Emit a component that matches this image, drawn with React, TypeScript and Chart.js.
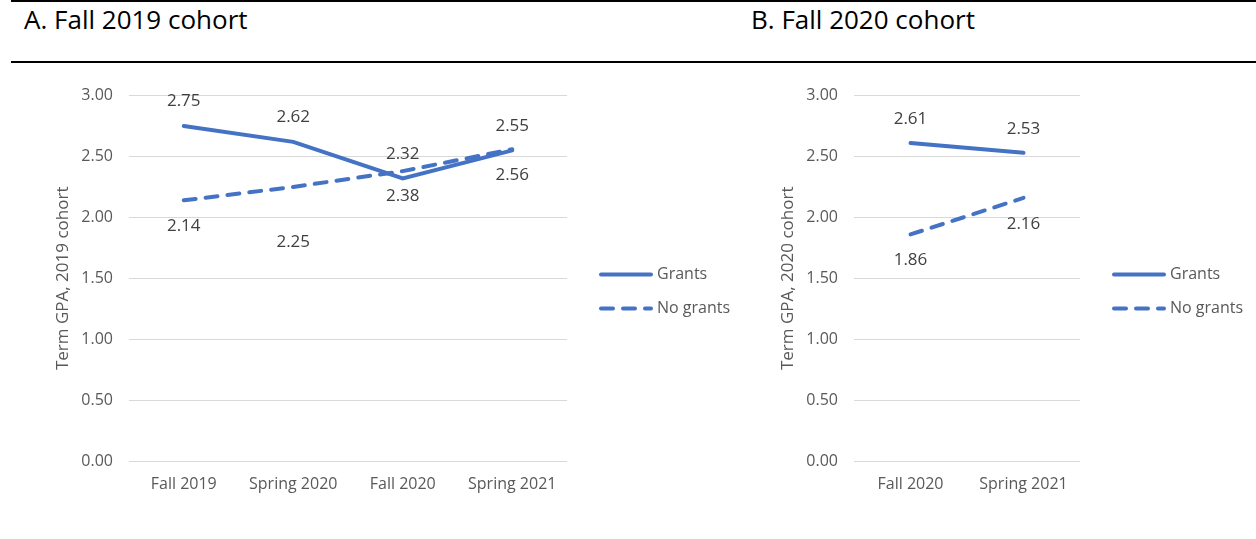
import React, { useEffect, useRef } from "react";
import { Chart, registerables } from "chart.js";

Chart.register(...registerables);

// ---- data ----
const termsA = ["Fall 2019", "Spring 2020", "Fall 2020", "Spring 2021"];
const grantsA = [2.75, 2.62, 2.32, 2.55];
const noGrantsA = [2.14, 2.25, 2.38, 2.56];

const termsB = ["Fall 2020", "Spring 2021"];
const grantsB = [2.61, 2.53];
const noGrantsB = [1.86, 2.16];

const seriesNames = ["Grants", "No grants"];
const panelTitles = ["A. Fall 2019 cohort", "B. Fall 2020 cohort"];
const yTitles = ["Term GPA, 2019 cohort", "Term GPA, 2020 cohort"];
const yMin = 0;
const yMax = 3;
const yStep = 0.5;

// ---- style ----
const FONT = "'Open Sans', sans-serif";
const BLUE = "#4472c4";
const TICK = "#595959";
const LABEL = "#404040";
const GRID = "#d9d9d9";

type PanelProps = {
  labels: string[];
  grants: number[];
  noGrants: number[];
  yTitle: string;
  yWidth: number;
  titlePad: number;
  labelOffsets: number[][];
  width: number;
  height: number;
  rightPad: number;
};

function Panel(p: PanelProps) {
  const ref = useRef<HTMLCanvasElement | null>(null);
  useEffect(() => {
    if (!ref.current) return;
    const valueLabels = {
      id: "valueLabels",
      afterDatasetsDraw(chart: any) {
        const ctx = chart.ctx;
        ctx.save();
        ctx.font = `17px ${FONT}`;
        ctx.fillStyle = LABEL;
        ctx.textAlign = "center";
        ctx.textBaseline = "middle";
        chart.data.datasets.forEach((ds: any, di: number) => {
          const meta = chart.getDatasetMeta(di);
          meta.data.forEach((pt: any, i: number) => {
            ctx.fillText(Number(ds.data[i]).toFixed(2), pt.x, pt.y + p.labelOffsets[di][i]);
          });
        });
        ctx.restore();
      },
    };
    const lineLegend = {
      id: "lineLegend",
      afterDraw(chart: any) {
        const ctx = chart.ctx;
        const area = chart.chartArea;
        const x0 = area.right + 32;
        const len = 54;
        const ys = [area.top + 179, area.top + 213];
        ctx.save();
        chart.data.datasets.forEach((ds: any, di: number) => {
          const y = ys[di];
          ctx.beginPath();
          ctx.strokeStyle = ds.borderColor;
          ctx.lineWidth = ds.borderWidth;
          ctx.lineCap = ds.borderCapStyle || "butt";
          ctx.setLineDash(ds.borderDash || []);
          ctx.moveTo(x0 + 2, y);
          ctx.lineTo(x0 + len - 2, y);
          ctx.stroke();
          ctx.setLineDash([]);
          ctx.font = `16px ${FONT}`;
          ctx.fillStyle = TICK;
          ctx.textAlign = "left";
          ctx.textBaseline = "middle";
          ctx.fillText(ds.label, x0 + len + 4, y);
        });
        ctx.restore();
      },
    };
    const chart = new Chart(ref.current, {
      type: "line",
      data: {
        labels: p.labels,
        datasets: [
          {
            label: seriesNames[0],
            data: p.grants,
            borderColor: BLUE,
            backgroundColor: BLUE,
            borderWidth: 4,
            pointRadius: 0,
            borderCapStyle: "round",
            tension: 0,
          },
          {
            label: seriesNames[1],
            data: p.noGrants,
            borderColor: BLUE,
            backgroundColor: BLUE,
            borderWidth: 4,
            pointRadius: 0,
            borderDash: [12, 10],
            borderCapStyle: "round",
            tension: 0,
          },
        ],
      } as any,
      options: {
        animation: false,
        responsive: false,
        devicePixelRatio: 1,
        layout: { padding: { left: 0, right: p.rightPad, top: 23, bottom: 30 } },
        plugins: {
          legend: { display: false },
          tooltip: { enabled: false },
          title: { display: false },
        },
        scales: {
          x: {
            type: "category",
            offset: true,
            grid: { display: false, drawTicks: false },
            border: { display: false },
            ticks: {
              color: TICK,
              font: { family: FONT, size: 16 },
              padding: 14,
              autoSkip: false,
              maxRotation: 0,
            },
            afterFit: (s: any) => {
              s.height = 48;
            },
          },
          y: {
            min: yMin,
            max: yMax,
            grid: { color: GRID, lineWidth: 1, drawTicks: false },
            border: { display: false },
            ticks: {
              stepSize: yStep,
              color: TICK,
              font: { family: FONT, size: 16 },
              padding: 16,
              callback: (v: any) => Number(v).toFixed(2),
            },
            title: {
              display: true,
              text: p.yTitle,
              color: TICK,
              font: { family: FONT, size: 17 },
              padding: { top: p.titlePad, bottom: 0 },
            },
            afterFit: (s: any) => {
              s.width = p.yWidth;
            },
          },
        },
      } as any,
      plugins: [valueLabels, lineLegend],
    });
    return () => chart.destroy();
  }, []);
  return <canvas ref={ref} width={p.width} height={p.height} style={{ display: "block", width: p.width, height: p.height }} />;
}

const titleStyle: React.CSSProperties = {
  position: "absolute",
  top: 2,
  fontFamily: FONT,
  fontSize: 26,
  lineHeight: "34px",
  color: "#000",
  whiteSpace: "nowrap",
};

export default function App() {
  return (
    <div style={{ position: "absolute", left: 0, top: 0, width: 1256, height: 539, background: "#fff", overflow: "hidden" }}>
      <div style={{ position: "absolute", left: 11, top: 0, width: 1245, height: 2, background: "#000" }} />
      <div style={{ position: "absolute", left: 11, top: 61, width: 1245, height: 2, background: "#000" }} />
      <div style={{ ...titleStyle, left: 24 }}>{panelTitles[0]}</div>
      <div style={{ ...titleStyle, left: 751 }}>{panelTitles[1]}</div>
      <div style={{ position: "absolute", left: 0, top: 70 }}>
        <Panel
          labels={termsA}
          grants={grantsA}
          noGrants={noGrantsA}
          yTitle={yTitles[0]}
          yWidth={129}
          titlePad={53}
          labelOffsets={[
            [-25, -25, -24, -24],
            [26, 55, 25, 26],
          ]}
          width={745}
          height={469}
          rightPad={178}
        />
      </div>
      <div style={{ position: "absolute", left: 745, top: 70 }}>
        <Panel
          labels={termsB}
          grants={grantsB}
          noGrants={noGrantsB}
          yTitle={yTitles[1]}
          yWidth={109}
          titlePad={33}
          labelOffsets={[
            [-24, -24],
            [26, 26],
          ]}
          width={511}
          height={469}
          rightPad={176}
        />
      </div>
    </div>
  );
}
